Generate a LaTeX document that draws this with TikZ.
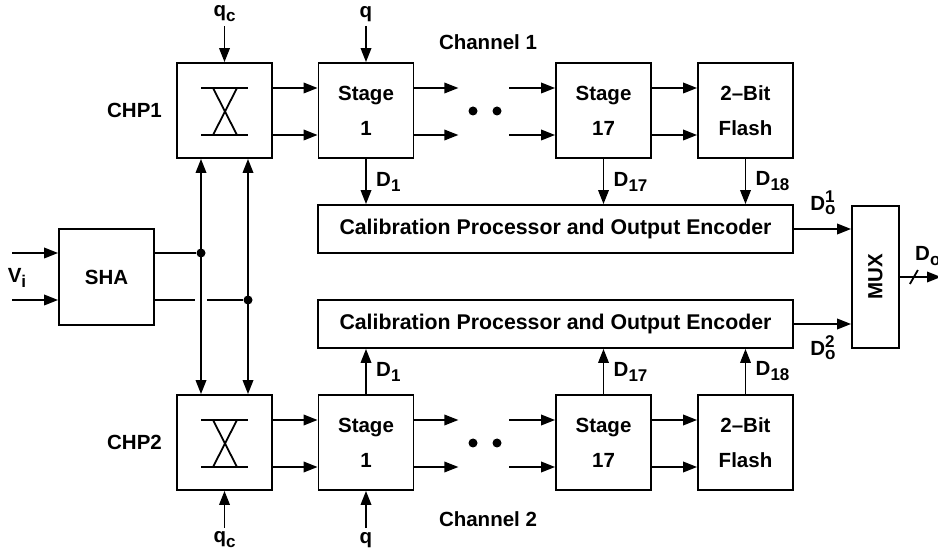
\documentclass[tikz,border=0pt]{standalone}
\usepackage{fontspec}
\setmainfont{Liberation Sans}
\usetikzlibrary{arrows.meta,positioning}

\newcommand{\lo}[1]{\raisebox{-5pt}{\fontsize{17}{17}\selectfont #1}}
\newcommand{\lohi}[3]{#1\rlap{\raisebox{-4pt}{\fontsize{17}{17}\selectfont #2}}\raisebox{8pt}{\fontsize{17}{17}\selectfont #3}}

\begin{document}
\begin{tikzpicture}[x=1pt,y=-1pt,line width=1.8pt,>={Triangle[length=14pt,width=10.5pt]},
  font=\fontsize{20.5}{24}\selectfont\bfseries]
\tikzstyle{blk}=[draw,minimum width=95pt,minimum height=95pt,inner sep=0pt]
\tikzstyle{stg}=[blk,align=center,execute at begin node=\rule{0pt}{25pt}]
\tikzstyle{cal}=[draw,minimum width=475pt,minimum height=48pt,font=\fontsize{21.3}{24}\selectfont\bfseries]
\tikzstyle{jdot}=[circle,fill,inner sep=0pt,minimum size=9pt]
\useasboundingbox (0,0) rectangle (938,553);
% channel 1
\node[blk] (chpa) at (224.5,110.5) {};
\node[stg] (stage1a) at (366,110.5) {Stage\\[11pt]1};
\node[stg] (stage17a) at (603.5,110.5) {Stage\\[11pt]17};
\node[stg] (flasha) at (745.5,110.5) {2–Bit\\[11pt]Flash};
\node[cal] (cala) at (555.5,229) {Calibration Processor and Output Encoder};
% channel 2
\node[blk] (chpb) at (224.5,442.5) {};
\node[stg] (stage1b) at (366,442.5) {Stage\\[11pt]1};
\node[stg] (stage17b) at (603.5,442.5) {Stage\\[11pt]17};
\node[stg] (flashb) at (745.5,442.5) {2–Bit\\[11pt]Flash};
\node[cal] (calb) at (555.5,324) {Calibration Processor and Output Encoder};
% front end and mux
\node[blk,minimum height=96pt] (sha) at (106.5,277) {SHA};
\node[draw,minimum width=47pt,minimum height=142pt] (mux) at (875.5,277) {};
\node[rotate=90] (muxt) at (mux.center) {MUX};
\node[jdot] (j1) at (201,253) {};
\node[jdot] (j2) at (248,300) {};
\node[jdot] (dota1) at (473,111) {};
\node[jdot] (dota2) at (497,111) {};
\node[jdot] (dotb1) at (473,443) {};
\node[jdot] (dotb2) at (497,443) {};
% labels
\node[left=10pt of chpa] (chpal) {CHP1};
\node[left=10pt of chpb] (chpbl) {CHP2};
\node (cha) at (488,42) {Channel 1};
\node (chb) at (488,519) {Channel 2};
\node (qca) at (224.5,14) {q\lo{c}};
\node (qa) at (366,14) {q};
\node (qcb) at (224.5,540) {q\lo{c}};
\node (qb) at (366,540) {q};
\node (vi) at (17,278) {V\lo{i}};
\node[anchor=base west] (dout) at (911,261) {D\lo{o}};
\coordinate (doutend) at (941,277);

% swap symbols
\foreach \c in {chpa,chpb}{
  \draw ([shift={(-23.5pt,22.5pt)}]\c.center) -- ([shift={(23.5pt,22.5pt)}]\c.center);
  \draw ([shift={(-23.5pt,-24.5pt)}]\c.center) -- ([shift={(23.5pt,-24.5pt)}]\c.center);
  \draw ([shift={(-11.5pt,22.5pt)}]\c.center) -- ([shift={(12.5pt,-24.5pt)}]\c.center);
  \draw ([shift={(12.5pt,22.5pt)}]\c.center) -- ([shift={(-11.5pt,-24.5pt)}]\c.center);
}
% pipelines
\foreach \r in {a,b}{
  \foreach \s in {22.5,-24.5}{
    \draw[->] ([yshift=\s pt]chp\r.east) -- ([yshift=\s pt]stage1\r.west);
    \draw[->] ([yshift=\s pt]stage1\r.east) -- ++(44,0);
    \draw[<-] ([yshift=\s pt]stage17\r.west) -- ++(-46,0);
    \draw[->] ([yshift=\s pt]stage17\r.east) -- ([yshift=\s pt]flash\r.west);
  }
}
\draw[->] (qca) -- (chpa);
\draw[->] (qa) -- (stage1a);
\draw[->] (qcb) -- (chpb);
\draw[->] (qb) -- (stage1b);
% sha and buses
\draw[<-] ([yshift=24pt]sha.west) -- ++(-46,0);
\draw[<-] ([yshift=-23pt]sha.west) -- ++(-46,0);
\draw ([yshift=24pt]sha.east) -- (j1);
\draw ([yshift=-23pt]sha.east) -- ([xshift=-6pt]j1 |- j2);
\draw ([xshift=6pt]j1 |- j2) -- (j2);
\draw[<->] (chpa.south -| j1) -- (chpb.north -| j1);
\draw[<->] (chpa.south -| j2) -- (chpb.north -| j2);
% digital outputs
\draw[->] (stage1a) -- (stage1a |- cala.north) node[midway,right=6pt] {D\lo{1}};
\draw[->] (stage17a) -- (stage17a |- cala.north) node[midway,right=6pt] {D\lo{17}};
\draw[->] (flasha) -- (flasha |- cala.north) node[midway,right=6pt] {D\lo{18}};
\draw[->] (stage1b) -- (stage1b |- calb.south) node[midway,right=6pt] {D\lo{1}};
\draw[->] (stage17b) -- (stage17b |- calb.south) node[midway,right=6pt] {D\lo{17}};
\draw[->] (flashb) -- (flashb |- calb.south) node[midway,right=6pt] {D\lo{18}};
\draw[->] (cala.east) -- (cala.east -| mux.west) node[midway,above=10pt] {\lohi{D}{o}{1}};
\draw[->] (calb.east) -- (calb.east -| mux.west) node[midway,below=7pt] {\lohi{D}{o}{2}};
\draw[->] (mux.east) -- (doutend);
\draw ([xshift=14pt]mux.east) +(-4,7) -- +(4,-7);
\end{tikzpicture}
\end{document}
